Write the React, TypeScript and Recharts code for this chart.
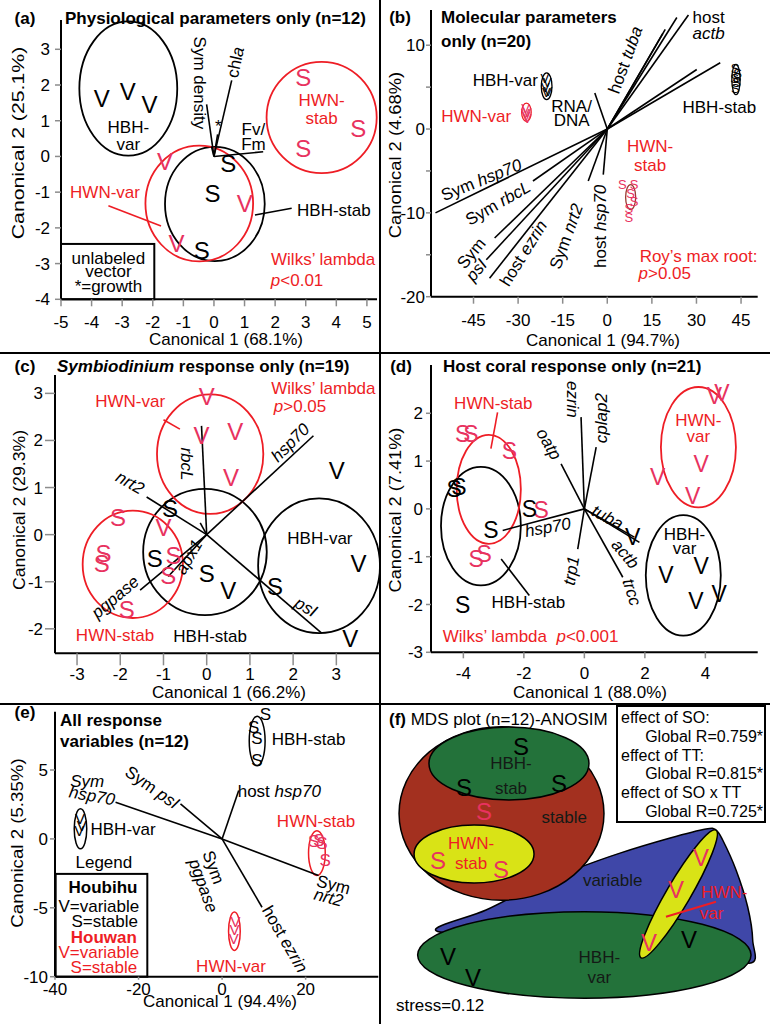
import React from 'react'
import { ScatterChart, Scatter, XAxis, YAxis, ReferenceLine, ReferenceArea } from 'recharts'

type Pt = { x: number; y: number }
type Lbl = { x: number; y: number; text: string; angle?: number }
type Ell = { cx: number; cy: number; rx: number; ry: number; angle?: number }

// ---------- (a) physiological parameters ----------
const aXTicks = [-5, -4, -3, -2, -1, 0, 1, 2, 3, 4, 5]
const aYTicks = [-4, -3, -2, -1, 0, 1, 2, 3]
const aHbhVar: Pt[] = [{ x: -3.67, y: 1.62 }, { x: -2.82, y: 1.81 }, { x: -2.11, y: 1.46 }]
const aHbhStab: Pt[] = [{ x: 0.47, y: -0.2 }, { x: -0.05, y: -1.03 }, { x: -0.4, y: -2.62 }]
const aHwnVar: Pt[] = [{ x: -1.6, y: -0.15 }, { x: 1.01, y: -1.31 }, { x: -1.22, y: -2.43 }]
const aHwnStab: Pt[] = [{ x: 2.92, y: 2.22 }, { x: 4.72, y: 0.78 }, { x: 2.92, y: 0.22 }]
const aBlackEllipses: Ell[] = [{ cx: -2.8, cy: 1.9, rx: 1.6, ry: 1.88 }, { cx: 0.03, cy: -1.33, rx: 1.63, ry: 1.6 }]
const aRedEllipses: Ell[] = [{ cx: 3.52, cy: 1.09, rx: 1.8, ry: 1.56 }, { cx: -0.48, cy: -1.32, rx: 1.76, ry: 1.62 }]
const aVectors: Pt[] = [{ x: -0.24, y: 1.46 }, { x: 0.58, y: 2.13 }, { x: 1.61, y: 0.13 }, { x: 0.12, y: 0.62 }, { x: -0.08, y: 0.28 }]
const aBlackLeaders: Pt[][] = [[{ x: 1.34, y: -1.64 }, { x: 2.54, y: -1.45 }]]
const aRedLeaders: Pt[][] = [[{ x: -3.45, y: -1.38 }, { x: -1.73, y: -1.95 }]]
const aKeyBox = { x1: -5, x2: -1.95, y1: -4, y2: -2.45 }
const aBlackLabels: Lbl[] = [
  { x: -2.8, y: 0.83, text: 'HBH-' }, { x: -2.8, y: 0.36, text: 'var' },
  { x: 3.92, y: -1.5, text: 'HBH-stab' },
  { x: -0.44, y: 2.06, text: 'Sym density', angle: 90 },
  { x: 0.69, y: 2.64, text: 'chl~a~', angle: -78 },
  { x: 1.29, y: 0.78, text: 'Fv/' }, { x: 1.29, y: 0.34, text: 'Fm' },
  { x: 0.14, y: 0.85, text: '*' },
  { x: -3.45, y: -2.85, text: 'unlabeled' }, { x: -3.45, y: -3.22, text: 'vector' }, { x: -3.45, y: -3.62, text: '*=growth' },
]
const aRedLabels: Lbl[] = [
  { x: 3.52, y: 1.57, text: 'HWN-' }, { x: 3.52, y: 1.09, text: 'stab' },
  { x: -3.56, y: -1.0, text: 'HWN-var' }, { x: 3.57, y: -2.88, text: 'Wilks’ lambda' },
]
const aRedLeft: Lbl[] = [{ x: 1.86, y: -3.45, text: '~p~<0.01' }]

// ---------- (b) molecular parameters ----------
const bXTicks = [-45, -30, -15, 0, 15, 30, 45]
const bYTicks = [-20, -15, -10, -5, 0, 5, 10]
const bHbhVar: Pt[] = [{ x: -21, y: 6.0 }, { x: -20.2, y: 5.6 }, { x: -20.8, y: 5.0 }, { x: -19.9, y: 4.5 }, { x: -20.5, y: 4.3 }]
const bHwnVar: Pt[] = [{ x: -27.5, y: 2.4 }, { x: -27, y: 2.0 }, { x: -27.3, y: 1.5 }, { x: -26.9, y: 1.2 }, { x: -27.6, y: 1.8 }]
const bHbhStab: Pt[] = [{ x: 43, y: 7.2 }, { x: 43.8, y: 6.6 }, { x: 42.8, y: 6.0 }, { x: 43.5, y: 5.5 }, { x: 43.1, y: 4.8 }, { x: 43.6, y: 6.2 }]
const bHwnStab: Pt[] = [{ x: 5.06, y: -6.64 }, { x: 8.98, y: -6.64 }, { x: 7.86, y: -7.63 }, { x: 8.98, y: -8.63 }, { x: 7.29, y: -9.42 }, { x: 7.29, y: -10.6 }]
const bBlackEllipses: Ell[] = [{ cx: -20.4, cy: 5.1, rx: 1.8, ry: 1.6 }, { cx: 43.3, cy: 5.9, rx: 1.4, ry: 1.8 }]
const bRedEllipses: Ell[] = [{ cx: -27.2, cy: 2.0, rx: 1.6, ry: 1.1 }]
const bStabEllipses: Ell[] = [{ cx: 7.86, cy: -8.13, rx: 1.69, ry: 1.49 }]
const bVectors: Pt[] = [
  { x: 23.4, y: 13.3 }, { x: 19.5, y: 11.9 }, { x: 18.7, y: 11.4 }, { x: 27.3, y: 13.6 }, { x: 30.1, y: 7.1 }, { x: 38, y: 7.9 },
  { x: -4.2, y: 4.3 }, { x: -57.8, y: -10 }, { x: -25, y: -6.2 }, { x: -37.9, y: -13 }, { x: -40.7, y: -15.6 },
  { x: -39.6, y: -17.8 }, { x: -6.4, y: -6.2 }, { x: -1.35, y: -5.44 },
]
const bBlackLabels: Lbl[] = [
  { x: -34.3, y: 5.88, text: 'HBH-var' }, { x: -12, y: 2.7, text: 'RNA/' }, { x: -12, y: 1.03, text: 'DNA' },
  { x: 37.7, y: 2.6, text: 'HBH-stab' }, { x: 34.1, y: 13.4, text: 'host' }, { x: 34.1, y: 11.4, text: '~actb~' },
  { x: 6.0, y: 8.26, text: 'host ~tuba~', angle: -70 },
  { x: -42.4, y: -6.04, text: 'Sym ~hsp70~', angle: -22 },
  { x: -36.8, y: -8.82, text: 'Sym ~rbcL~', angle: -30 },
  { x: -45.8, y: -14.8, text: 'Sym', angle: -50 }, { x: -44.1, y: -16.8, text: '~psI~', angle: -50 },
  { x: -28.3, y: -14.8, text: 'host ~ezrin~', angle: -58 },
  { x: -13.9, y: -12.8, text: 'Sym ~nrt2~', angle: -70 },
  { x: -2.5, y: -11.6, text: 'host ~hsp70~', angle: -90 },
]
const bRedLabels: Lbl[] = [
  { x: -44.1, y: 1.5, text: 'HWN-var' }, { x: 14.4, y: -2.07, text: 'HWN-' }, { x: 14.4, y: -4.33, text: 'stab' },
  { x: 30.7, y: -15.2, text: 'Roy’s max root:' },
]
const bRedLeft: Lbl[] = [{ x: 10.5, y: -17.2, text: '~p~>0.05' }]

// ---------- (c) Symbiodinium response ----------
const cXTicks = [-3, -2, -1, 0, 1, 2, 3]
const cYTicks = [-2, -1, 0, 1, 2, 3]
const cHwnVar: Pt[] = [{ x: 0, y: 2.94 }, { x: -0.12, y: 2.1 }, { x: 0.66, y: 2.2 }, { x: 0.56, y: 1.22 }]
const cHbhVar: Pt[] = [{ x: 3.01, y: 1.36 }, { x: 3.51, y: -0.61 }, { x: 3.32, y: -2.2 }]
const cHbhStabS: Pt[] = [{ x: -0.85, y: 0.55 }, { x: -1.2, y: -0.51 }, { x: 0, y: -0.82 }, { x: 1.58, y: -1.1 }]
const cHbhStabV: Pt[] = [{ x: 0.5, y: -1.18 }]
const cHwnStabS: Pt[] = [{ x: -2.05, y: 0.37 }, { x: -2.39, y: -0.4 }, { x: -2.43, y: -0.61 }, { x: -0.77, y: -0.44 }, { x: -0.89, y: -0.86 }, { x: -1.85, y: -1.6 }]
const cHwnStabV: Pt[] = [{ x: -1.0, y: 0.16 }]
const cBlackEllipses: Ell[] = [{ cx: 2.6, cy: -0.66, rx: 1.41, ry: 1.43 }, { cx: -0.04, cy: -0.37, rx: 1.43, ry: 1.34 }]
const cRedEllipses: Ell[] = [{ cx: 0.08, cy: 1.71, rx: 1.23, ry: 1.27 }, { cx: -1.71, cy: -0.63, rx: 1.16, ry: 1.14 }]
const cVectors: Pt[] = [{ x: -0.12, y: 2.31 }, { x: 2.47, y: 2.1 }, { x: -1.39, y: 0.8 }, { x: 2.66, y: -2.09 }, { x: -1.54, y: -1.18 }, { x: -0.89, y: -0.89 }, { x: -0.15, y: 0.25 }]
const cRedLeaders: Pt[][] = [[{ x: -1.0, y: 2.44 }, { x: -0.62, y: 2.24 }]]
const cBlackLabels: Lbl[] = [
  { x: -0.46, y: 1.5, text: '~rbcL~', angle: 90 }, { x: 1.93, y: 1.96, text: '~hsp70~', angle: -45 },
  { x: -1.77, y: 1.11, text: '~nrt2~', angle: 30 }, { x: 2.3, y: -1.53, text: '~psI~', angle: 30 },
  { x: -2.12, y: -1.32, text: '~pgpase~', angle: -40 }, { x: -0.42, y: -0.47, text: '~apx1~', angle: -60 },
  { x: 2.62, y: -0.08, text: 'HBH-var' }, { x: 0.08, y: -2.16, text: 'HBH-stab' },
]
const cRedLabels: Lbl[] = [
  { x: -1.77, y: 2.84, text: 'HWN-var' }, { x: 2.7, y: 3.12, text: 'Wilks’ lambda' },
  { x: 2.16, y: 2.73, text: '~p~>0.05' }, { x: -2.12, y: -2.13, text: 'HWN-stab' },
]

// ---------- (d) host coral response ----------
const dXTicks = [-4, -2, 0, 2, 4]
const dYTicks = [-3, -2, -1, 0, 1, 2]
const dHwnStab: Pt[] = [{ x: -4.02, y: 1.57 }, { x: -3.75, y: 1.57 }, { x: -2.48, y: 1.22 }, { x: -1.43, y: -0.03 }, { x: -3.58, y: -1.05 }, { x: -3.31, y: -0.94 }]
const dHbhStab: Pt[] = [{ x: -4.3, y: 0.42 }, { x: -4.15, y: 0.45 }, { x: -1.82, y: 0.0 }, { x: -3.09, y: -0.45 }, { x: -4.02, y: -2.02 }]
const dHwnVar: Pt[] = [{ x: 4.3, y: 2.37 }, { x: 4.55, y: 2.42 }, { x: 3.86, y: 0.94 }, { x: 2.42, y: 0.66 }, { x: 3.58, y: 0.28 }]
const dHbhVar: Pt[] = [{ x: 1.6, y: -0.59 }, { x: 3.86, y: -1.19 }, { x: 2.7, y: -1.39 }, { x: 3.69, y: -1.92 }, { x: 4.46, y: -1.78 }]
const dBlackEllipses: Ell[] = [{ cx: -3.42, cy: -0.36, rx: 1.32, ry: 1.24 }, { cx: 3.27, cy: -1.39, rx: 1.24, ry: 1.26 }]
const dRedEllipses: Ell[] = [{ cx: -3.16, cy: 0.41, rx: 1.06, ry: 1.14 }, { cx: 3.77, cy: 1.29, rx: 1.24, ry: 1.26 }]
const dVectors: Pt[] = [{ x: -0.11, y: 1.92 }, { x: 0.39, y: 1.29 }, { x: -0.77, y: 0.94 }, { x: 1.65, y: -0.59 }, { x: 1.82, y: -0.7 }, { x: 1.27, y: -1.43 }, { x: -0.22, y: -0.84 }, { x: -2.7, y: -0.45 }]
const dBlackLeaders: Pt[][] = [[{ x: -2.75, y: -1.05 }, { x: -1.82, y: -1.81 }]]
const dRedLeaders: Pt[][] = [[{ x: -2.87, y: 2.02 }, { x: -3.09, y: 1.26 }]]
const dBlackLabels: Lbl[] = [
  { x: -0.39, y: 2.29, text: '~ezrin~', angle: 90 }, { x: 0.55, y: 1.9, text: '~cplap2~', angle: -90 },
  { x: -1.16, y: 1.36, text: '~oatp~', angle: 60 }, { x: 0.77, y: -0.17, text: '~tuba~', angle: 28 },
  { x: 1.36, y: -0.94, text: '~actb~', angle: 50 }, { x: 1.58, y: -1.74, text: '~trcc~', angle: 72 },
  { x: -0.44, y: -1.29, text: '~trp1~', angle: -80 }, { x: -1.21, y: -0.38, text: '~hsp70~', angle: -10 },
  { x: 3.31, y: -0.52, text: 'HBH-' }, { x: 3.31, y: -0.82, text: 'var' }, { x: -1.85, y: -1.95, text: 'HBH-stab' },
]
const dRedLabels: Lbl[] = [{ x: -3.01, y: 2.22, text: 'HWN-stab' }, { x: 3.77, y: 1.85, text: 'HWN-' }, { x: 3.77, y: 1.53, text: 'var' }]
const dRedLeft: Lbl[] = [{ x: -4.68, y: -2.65, text: 'Wilks’ lambda\u00a0\u00a0~p~<0.001' }]

// ---------- (e) all response variables ----------
const eXTicks = [-40, -20, 0, 20]
const eYTicks = [-10, -5, 0, 5]
const eHbhStab: Pt[] = [{ x: 10.4, y: 9.0 }, { x: 7.57, y: 8.1 }, { x: 8.37, y: 7.26 }, { x: 8.37, y: 5.69 }]
const eHbhVar: Pt[] = [{ x: -34, y: 1.5 }, { x: -33.6, y: 1.0 }, { x: -34.2, y: 0.6 }]
const eHwnStab: Pt[] = [{ x: 21.9, y: -0.2 }, { x: 23.2, y: -0.1 }, { x: 23.9, y: -0.3 }, { x: 24.7, y: -1.6 }]
const eHwnVar: Pt[] = [{ x: 3.2, y: -6.0 }, { x: 3.0, y: -6.6 }, { x: 2.8, y: -7.2 }]
const eBlackEllipses: Ell[] = [{ cx: 8.4, cy: 7.1, rx: 1.9, ry: 1.8 }, { cx: -33.9, cy: 0.73, rx: 1.5, ry: 1.45 }]
const eRedEllipses: Ell[] = [{ cx: 22.7, cy: -1.03, rx: 2.0, ry: 1.63 }, { cx: 2.95, cy: -6.7, rx: 1.4, ry: 1.39 }]
const eVectors: Pt[] = [{ x: -25.5, y: 2.66 }, { x: 23.1, y: -2.66 }, { x: -9.96, y: 2.54 }, { x: 3.98, y: 3.51 }, { x: 9.56, y: -4.96 }]
const eKeyBox = { x1: -39.84, x2: -17.9, y1: -10, y2: -2.54 }
const eBlackLabels: Lbl[] = [
  { x: 20.7, y: 7.26, text: 'HBH-stab' }, { x: -32.3, y: 4.23, text: '~Sym~' }, { x: -31.1, y: 3.15, text: '~hsp70~', angle: 10 },
  { x: -16.7, y: 3.75, text: 'Sym ~psI~', angle: 35 }, { x: 13.7, y: 3.51, text: 'host ~hsp70~' },
  { x: -23.7, y: 0.73, text: 'HBH-var' }, { x: -28.3, y: -1.69, text: 'Legend' },
  { x: 26.7, y: -3.31, text: 'Sym', angle: 15 }, { x: 25.5, y: -4.23, text: '~nrt2~', angle: 15 },
  { x: -2.0, y: -2.06, text: 'Sym', angle: 70 }, { x: -4.4, y: -3.39, text: '~pgpase~', angle: 70 },
  { x: 15.1, y: -7.26, text: 'host ~ezrin~', angle: 60 },
  { x: -29.5, y: -4.84, text: 'V=variable' }, { x: -28.1, y: -5.93, text: 'S=stable' },
]
const eBlackBold: Lbl[] = [{ x: -28.5, y: -3.51, text: 'Houbihu' }]
const eRedBold: Lbl[] = [{ x: -28.3, y: -7.09, text: 'Houwan' }]
const eRedLabels: Lbl[] = [
  { x: 22.5, y: 1.33, text: 'HWN-stab' }, { x: 2.15, y: -9.19, text: 'HWN-var' },
  { x: -29.5, y: -8.23, text: 'V=variable' }, { x: -28.3, y: -9.32, text: 'S=stable' },
]

// ---------- (f) MDS plot ----------
const fStable: Ell = { cx: -0.806, cy: 0.517, rx: 1.059, ry: 0.897 }
const fHbhStab: Ell = { cx: -0.729, cy: 1.034, rx: 0.827, ry: 0.377 }
const fHwnStab: Ell = { cx: -1.09, cy: 0.098, rx: 0.62, ry: 0.3 }
const fHbhVar: Ell = { cx: 0.05, cy: -0.946, rx: 1.723, ry: 0.448 }
const fHwnVar: Ell = { cx: 1.023, cy: -0.315, rx: 0.765, ry: 0.124, angle: 59.6 }
const fVariable: Pt[] = [
  { x: -1.483, y: -0.695 }, { x: -0.966, y: -0.481 }, { x: -0.45, y: -0.222 }, { x: -0.07, y: -0.067 },
  { x: 0.411, y: 0.105 }, { x: 0.928, y: 0.261 }, { x: 1.307, y: 0.357 }, { x: 1.411, y: 0.346 },
  { x: 1.48, y: 0.243 }, { x: 1.618, y: -0.067 }, { x: 1.738, y: -0.447 }, { x: 1.79, y: -0.791 },
  { x: 1.755, y: -1.032 }, { x: 1.101, y: -0.86 }, { x: -0.622, y: -0.757 },
]
const fStabBlack: Pt[] = [{ x: -0.605, y: 1.205 }, { x: -1.194, y: 0.791 }, { x: -0.212, y: 0.832 }]
const fStabRed: Pt[] = [{ x: -0.987, y: 0.533 }, { x: -1.463, y: 0.036 }, { x: -0.811, y: -0.067 }]
const fVarRed: Pt[] = [{ x: 1.256, y: 0.067 }, { x: 0.997, y: -0.274 }, { x: 0.718, y: -0.822 }]
const fVarBlack: Pt[] = [{ x: 1.132, y: -0.791 }, { x: -1.359, y: -0.967 }, { x: -1.101, y: -1.184 }]
const fRedLeaders: Pt[][] = [[{ x: 0.894, y: -0.55 }, { x: 1.411, y: -0.395 }]]
const fDarkLabels: Lbl[] = [
  { x: -0.708, y: 1.036, text: 'HBH-' }, { x: -0.708, y: 0.778, text: 'stab' }, { x: -0.157, y: 0.484, text: 'stable' },
  { x: 0.343, y: -0.171, text: 'variable' }, { x: 0.205, y: -0.964, text: 'HBH-' }, { x: 0.205, y: -1.171, text: 'var' },
]
const fRedLabels: Lbl[] = [
  { x: -1.121, y: 0.209, text: 'HWN-' }, { x: -1.121, y: 0.002, text: 'stab' },
  { x: 1.497, y: -0.292, text: 'HWN-' }, { x: 1.366, y: -0.515, text: 'var' },
]
const fLeft: Lbl[] = [{ x: -1.897, y: -1.463, text: 'stress=0.12' }]
const fStats = ['effect of SO:', 'Global R=0.759*', 'effect of TT:', 'Global R=0.815*', 'effect of SO x TT', 'Global R=0.725*']

// ---------- drawing helpers ----------
const FONT = '"Liberation Sans", Arial, Helvetica, sans-serif'
const RED = '#ee1d25'
const PINK = '#e8325f'
const AX = { stroke: '#000', strokeWidth: 2 }
const TL = { stroke: '#8c8c8c', strokeWidth: 1.5 }

const rich = (s: string) =>
  s.split('~').map((part, i) => (
    <tspan key={i} fontStyle={i % 2 ? 'italic' : 'normal'}>{part}</tspan>
  ))

const letters = (data: Pt[], ch: string, color: string, size: number, key: string) => (
  <Scatter key={key} data={data} isAnimationActive={false}
    shape={(p: any) => (
      <text x={p.cx} y={p.cy} fill={color} fontSize={size} textAnchor="middle" dominantBaseline="central">{ch}</text>
    )} />
)

const labels = (data: Lbl[], color: string, key: string, anchor = 'middle', weight = 'normal', size = 17) => (
  <Scatter key={key} data={data} isAnimationActive={false}
    shape={(p: any) => {
      const a = p.payload?.angle ?? 0
      return (
        <text x={p.cx} y={p.cy} fill={color} fontSize={size} fontWeight={weight} textAnchor={anchor}
          dominantBaseline="central" transform={a ? `rotate(${a} ${p.cx} ${p.cy})` : undefined}>
          {rich(p.payload.text)}
        </text>
      )
    }} />
)

const ellipses = (list: Ell[], stroke: string, key: string, sw = 1.8, fill = 'none') =>
  list.map((e, i) => (
    <ReferenceArea key={key + i} x1={e.cx - e.rx} x2={e.cx + e.rx} y1={e.cy - e.ry} y2={e.cy + e.ry} ifOverflow="visible"
      shape={(p: any) => {
        const cx = p.x + p.width / 2
        const cy = p.y + p.height / 2
        return (
          <ellipse cx={cx} cy={cy} rx={Math.abs(p.width) / 2} ry={Math.abs(p.height) / 2} fill={fill} stroke={stroke}
            strokeWidth={sw} transform={e.angle ? `rotate(${-e.angle} ${cx} ${cy})` : undefined} />
        )
      }} />
  ))

const vectors = (list: Pt[], key: string, stroke = '#000', sw = 1.6) =>
  list.map((v, i) => (
    <ReferenceLine key={key + i} segment={[{ x: 0, y: 0 }, { x: v.x, y: v.y }]} stroke={stroke} strokeWidth={sw} ifOverflow="visible" />
  ))

const segments = (list: Pt[][], key: string, stroke = '#000', sw = 1.6) =>
  list.map((s, i) => (
    <ReferenceLine key={key + i} segment={[s[0], s[1]]} stroke={stroke} strokeWidth={sw} ifOverflow="visible" />
  ))

const keyBox = (b: { x1: number; x2: number; y1: number; y2: number }, key: string) => (
  <ReferenceArea key={key} {...b} ifOverflow="visible"
    shape={(p: any) => <rect x={p.x} y={p.y} width={p.width} height={p.height} fill="#fff" stroke="#000" strokeWidth={2} />} />
)

function smoothClosed(p: number[][]) {
  const n = p.length
  let d = `M${p[0][0]},${p[0][1]}`
  for (let i = 0; i < n; i++) {
    const p0 = p[(i - 1 + n) % n], p1 = p[i], p2 = p[(i + 1) % n], p3 = p[(i + 2) % n]
    const c1x = p1[0] + (p2[0] - p0[0]) / 6, c1y = p1[1] + (p2[1] - p0[1]) / 6
    const c2x = p2[0] - (p3[0] - p1[0]) / 6, c2y = p2[1] - (p3[1] - p1[1]) / 6
    d += ` C${c1x},${c1y} ${c2x},${c2y} ${p2[0]},${p2[1]}`
  }
  return d + ' Z'
}

const blob = (pts: Pt[], fill: string, key: string) => {
  const xs = pts.map((p) => p.x), ys = pts.map((p) => p.y)
  const x1 = Math.min(...xs), x2 = Math.max(...xs), y1 = Math.min(...ys), y2 = Math.max(...ys)
  return (
    <ReferenceArea key={key} x1={x1} x2={x2} y1={y1} y2={y2} ifOverflow="visible"
      shape={(p: any) => {
        const px = pts.map((q) => [p.x + ((q.x - x1) / (x2 - x1)) * p.width, p.y + ((y2 - q.y) / (y2 - y1)) * p.height])
        return <path d={smoothClosed(px)} fill={fill} stroke="#000" strokeWidth={1.5} />
      }} />
  )
}

function Panel(props: any) {
  const { box, margin, yWidth, xDomain, yDomain, xTicks, yTicks, xTick, yTick, yFmt, hide, children } = props
  return (
    <div style={{ position: 'absolute', left: box[0], top: box[1] }}>
      <ScatterChart width={box[2]} height={box[3]} margin={margin}>
        <XAxis type="number" dataKey="x" domain={xDomain} ticks={xTicks} hide={hide} height={30} interval={0}
          axisLine={AX} tickLine={TL} tickSize={xTick?.[0]} tickMargin={xTick?.[1]} tick={{ fill: '#000', fontSize: 17 }} />
        <YAxis type="number" dataKey="y" domain={yDomain} ticks={yTicks} hide={hide} width={yWidth} interval={0}
          axisLine={AX} tickLine={TL} tickSize={yTick?.[0]} tickMargin={yTick?.[1]} tick={{ fill: '#000', fontSize: 17 }}
          tickFormatter={yFmt} />
        {children}
      </ScatterChart>
    </div>
  )
}

function T({ x, y, s = 17, b = false, a = 'middle', c = '#000', r = 0, k = 1, children }: any) {
  const tx = a === 'middle' ? '-50%' : a === 'end' ? '-100%' : '0'
  return (
    <div style={{
      position: 'absolute', left: x, top: y, transform: `translate(${tx},-50%) rotate(${r}deg) scaleX(${k})`,
      fontSize: s, fontWeight: b ? 'bold' : 'normal', color: c, whiteSpace: 'nowrap', lineHeight: 1.15,
    }}>{children}</div>
  )
}

export default function App() {
  return (
    <div style={{ position: 'absolute', left: 0, top: 0, width: 773, height: 1024, background: '#fff', fontFamily: FONT, overflow: 'hidden' }}>
      {/* (a) */}
      <Panel box={[0, 0, 380, 352]} margin={{ top: 20, right: 3, bottom: 22.7, left: 0 }} yWidth={61}
        xDomain={[-5, 5.33]} yDomain={[-4, 3.82]} xTicks={aXTicks} yTicks={aYTicks} xTick={[7, 10]} yTick={[6, 5]}>
        {keyBox(aKeyBox, 'akey')}
        {ellipses(aBlackEllipses, '#000', 'abe')}
        {ellipses(aRedEllipses, RED, 'are')}
        {vectors(aVectors, 'av')}
        {segments(aBlackLeaders, 'abl')}
        {segments(aRedLeaders, 'arl', RED)}
        {letters(aHbhVar, 'V', '#000', 24, 'a1')}
        {letters(aHbhStab, 'S', '#000', 24, 'a2')}
        {letters(aHwnVar, 'V', PINK, 24, 'a3')}
        {letters(aHwnStab, 'S', PINK, 24, 'a4')}
        {labels(aBlackLabels, '#000', 'a5')}
        {labels(aRedLabels, RED, 'a6')}
        {labels(aRedLeft, RED, 'a7', 'start')}
      </Panel>

      {/* (b) */}
      <Panel box={[380, 0, 393, 352]} margin={{ top: 10, right: 15.3, bottom: 25.3, left: 0 }} yWidth={51}
        xDomain={[-59.3, 50.6]} yDomain={[-20, 14.2]} xTicks={bXTicks} yTicks={bYTicks} xTick={[7, 10]} yTick={[5, 1]}
        yFmt={(v: number) => (v % 10 === 0 ? String(v) : '')}>
        {vectors(bVectors, 'bv')}
        {ellipses(bBlackEllipses, '#000', 'bbe', 1.3)}
        {ellipses(bRedEllipses, RED, 'bre', 1.3)}
        {ellipses(bStabEllipses, '#9b3a33', 'bse', 1.3)}
        {letters(bHbhVar, 'V', '#000', 13, 'b1')}
        {letters(bHwnVar, 'V', PINK, 13, 'b2')}
        {letters(bHbhStab, 'S', '#000', 13, 'b3')}
        {letters(bHwnStab, 'S', PINK, 13, 'b4')}
        {labels(bBlackLabels, '#000', 'b5')}
        {labels(bRedLabels, RED, 'b6')}
        {labels(bRedLeft, RED, 'b7', 'start')}
      </Panel>

      {/* (c) */}
      <Panel box={[0, 352, 380, 351]} margin={{ top: 23, right: 0, bottom: 19.7, left: 0 }} yWidth={55}
        xDomain={[-3.51, 4.01]} yDomain={[-2.52, 3.39]} xTicks={cXTicks} yTicks={cYTicks} xTick={[12, 3]} yTick={[10, 2]}>
        {ellipses(cBlackEllipses, '#000', 'cbe')}
        {ellipses(cRedEllipses, RED, 'cre')}
        {vectors(cVectors, 'cv')}
        {segments(cRedLeaders, 'crl', RED)}
        {letters(cHwnVar, 'V', PINK, 24, 'c1')}
        {letters(cHbhVar, 'V', '#000', 24, 'c2')}
        {letters(cHbhStabS, 'S', '#000', 24, 'c3')}
        {letters(cHbhStabV, 'V', '#000', 24, 'c4')}
        {letters(cHwnStabS, 'S', PINK, 24, 'c5')}
        {letters(cHwnStabV, 'V', PINK, 24, 'c6')}
        {labels(cBlackLabels, '#000', 'c7')}
        {labels(cRedLabels, RED, 'c8')}
      </Panel>

      {/* (d) */}
      <Panel box={[380, 352, 393, 351]} margin={{ top: 13, right: 15.3, bottom: 20.7, left: 0 }} yWidth={51}
        xDomain={[-5.07, 5.73]} yDomain={[-3, 3.01]} xTicks={dXTicks} yTicks={dYTicks} xTick={[6, 9]} yTick={[5, 3]}>
        {ellipses(dBlackEllipses, '#000', 'dbe')}
        {ellipses(dRedEllipses, RED, 'dre')}
        {vectors(dVectors, 'dv')}
        {segments(dBlackLeaders, 'dbl')}
        {segments(dRedLeaders, 'drl', RED)}
        {letters(dHwnStab, 'S', PINK, 23, 'd1')}
        {letters(dHbhStab, 'S', '#000', 23, 'd2')}
        {letters(dHwnVar, 'V', PINK, 23, 'd3')}
        {letters(dHbhVar, 'V', '#000', 23, 'd4')}
        {labels(dBlackLabels, '#000', 'd5')}
        {labels(dRedLabels, RED, 'd6')}
        {labels(dRedLeft, RED, 'd7', 'start')}
      </Panel>

      {/* (e) */}
      <Panel box={[0, 703, 380, 321]} margin={{ top: 8.7, right: 1.7, bottom: 17.3, left: 0 }} yWidth={55}
        xDomain={[-40, 37.4]} yDomain={[-10, 9.23]} xTicks={eXTicks} yTicks={eYTicks} xTick={[3, 3]} yTick={[5, 2]}>
        {keyBox(eKeyBox, 'ekey')}
        {vectors(eVectors, 'ev')}
        {ellipses(eBlackEllipses, '#000', 'ebe', 1.5)}
        {ellipses(eRedEllipses, RED, 'ere', 1.5)}
        {letters(eHbhStab, 'S', '#000', 17, 'e1')}
        {letters(eHbhVar, 'V', '#000', 15, 'e2')}
        {letters(eHwnStab, 'S', PINK, 17, 'e3')}
        {letters(eHwnVar, 'V', PINK, 15, 'e4')}
        {labels(eBlackLabels, '#000', 'e5')}
        {labels(eBlackBold, '#000', 'e6', 'middle', 'bold')}
        {labels(eRedBold, RED, 'e7', 'middle', 'bold')}
        {labels(eRedLabels, RED, 'e8')}
      </Panel>

      {/* (f) */}
      <Panel box={[386, 703, 387, 321]} margin={{ top: 0, right: 0, bottom: 0, left: 0 }} hide
        xDomain={[-2, 2]} yDomain={[-1.66, 1.66]}>
        {blob(fVariable, '#3f47a8', 'fblob')}
        {ellipses([fStable], '#000', 'f1', 1.5, '#a3301f')}
        {ellipses([fHbhStab], '#000', 'f2', 1.5, '#23723a')}
        {ellipses([fHwnStab], '#000', 'f3', 1.5, '#d9e316')}
        {ellipses([fHbhVar], '#000', 'f4', 1.5, '#23723a')}
        {ellipses([fHwnVar], '#000', 'f5', 1.5, '#d9e316')}
        {segments(fRedLeaders, 'frl', RED, 2)}
        {letters(fStabBlack, 'S', '#000', 24, 'f6')}
        {letters(fStabRed, 'S', PINK, 24, 'f7')}
        {letters(fVarRed, 'V', PINK, 24, 'f8')}
        {letters(fVarBlack, 'V', '#000', 24, 'f9')}
        {labels(fDarkLabels, '#141a16', 'f10')}
        {labels(fRedLabels, RED, 'f11')}
        {labels(fLeft, '#000', 'f12', 'start')}
      </Panel>

      {/* dividers */}
      <div style={{ position: 'absolute', left: 379, top: 0, width: 2, height: 1024, background: '#000' }} />
      <div style={{ position: 'absolute', left: 0, top: 351.5, width: 770, height: 2, background: '#000' }} />
      <div style={{ position: 'absolute', left: 0, top: 702.5, width: 770, height: 2, background: '#000' }} />

      {/* titles and axis titles */}
      <T x={25} y={19} b>(a)</T>
      <T x={65} y={19} a="start" b>Physiological parameters only (n=12)</T>
      <T x={19} y={143} r={-90} k={1.25}>Canonical 2 (25.1%)</T>
      <T x={226} y={340}>Canonical 1 (68.1%)</T>

      <T x={400} y={18} b>(b)</T>
      <T x={441} y={18} a="start" b>Molecular parameters</T>
      <T x={441} y={42} a="start" b>only (n=20)</T>
      <T x={396} y={155} r={-90} k={1.08}>Canonical 2 (4.68%)</T>
      <T x={603} y={341}>Canonical 1 (94.7%)</T>

      <T x={25} y={367} b>(c)</T>
      <T x={57} y={367} a="start" b><i>Symbiodinium</i> response only (n=19)</T>
      <T x={20} y={510} r={-90} k={1.04}>Canonical 2 (29.3%)</T>
      <T x={229} y={693}>Canonical 1 (66.2%)</T>

      <T x={401} y={367} b>(d)</T>
      <T x={443} y={367} a="start" b>Host coral response only (n=21)</T>
      <T x={396} y={510} r={-90} k={1.07}>Canonical 2 (7.41%)</T>
      <T x={590} y={693}>Canonical 1 (88.0%)</T>

      <T x={25} y={713} b>(e)</T>
      <T x={60} y={721} a="start" b>All response</T>
      <T x={60} y={742} a="start" b>variables (n=12)</T>
      <T x={18} y={843} r={-90} k={1.1}>Canonical 2 (5.35%)</T>
      <T x={220} y={1002}>Canonical 1 (94.4%)</T>

      <T x={389} y={720} a="start"><b>(f)</b> MDS plot (n=12)-ANOSIM</T>
      <div style={{ position: 'absolute', left: 616, top: 705, width: 150, height: 118, border: '2px solid #000', background: '#fff', boxSizing: 'border-box' }} />
      {fStats.map((s, i) =>
        i % 2 === 0
          ? <T key={s} x={621} y={718 + i * 18.8} a="start" s={16}>{s}</T>
          : <T key={s} x={763} y={718 + i * 18.8} a="end" s={16}>{s}</T>
      )}
    </div>
  )
}
